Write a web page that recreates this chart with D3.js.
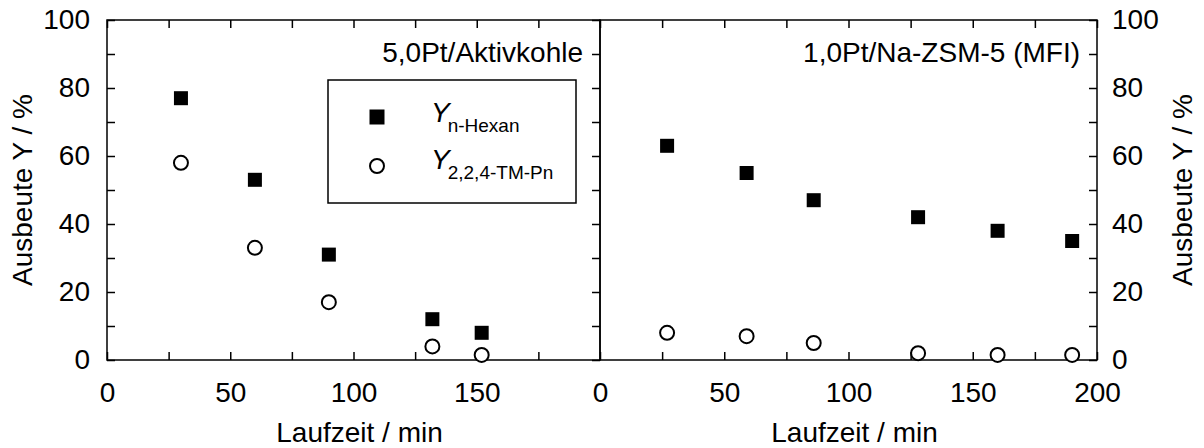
<!DOCTYPE html>
<html>
<head>
<meta charset="utf-8">
<script src="https://cdn.jsdelivr.net/npm/d3@7"></script>
<style>
  html, body { margin: 0; padding: 0; background: #fff; }
  svg { display: block; }
  text { font-family: "Liberation Sans", Arial, sans-serif; fill: #000; }
</style>
</head>
<body>
<svg id="chart" width="1204" height="448"></svg>
<script>
// ---- data ----
const panelTitles = ["5,0Pt/Aktivkohle", "1,0Pt/Na-ZSM-5 (MFI)"];
const leftTime   = [30, 60, 90, 132, 152];
const leftHexan  = [77, 53, 31, 12, 8];
const leftTMPn   = [58, 33, 17, 4, 1.5];
const rightTime  = [27, 59, 86, 128, 160, 190];
const rightHexan = [63, 55, 47, 42, 38, 35];
const rightTMPn  = [8, 7, 5, 2, 1.5, 1.5];
const legendMain = ["Y", "Y"];
const legendSub  = ["n-Hexan", "2,2,4-TM-Pn"];
const yMajor = [0, 20, 40, 60, 80, 100];
const yMinor = [10, 30, 50, 70, 90];
const xMajorLeft = [0, 50, 100, 150];
const xMajorRight = [0, 50, 100, 150, 200];
const xMinor = [25, 75, 125, 175];
const xTitle = "Laufzeit / min";
const yTitle = "Ausbeute Y / %";

// ---- layout ----
const svg = d3.select("#chart");
const yTop = 20, yBottom = 360;
const y = d3.scaleLinear().domain([0, 100]).range([yBottom, yTop]);
const xL = d3.scaleLinear().domain([0, 200]).range([107, 600]);
const xR = d3.scaleLinear().domain([0, 200]).range([600, 1097]);
const TICK = 8, FS = 28, SW = 1.5;

function style(g, labels) {
  g.select(".domain").remove();
  g.selectAll(".tick line").attr("stroke", "#000").attr("stroke-width", SW);
  g.selectAll(".tick text").attr("font-size", FS).attr("font-family", "Liberation Sans, Arial, sans-serif").attr("fill", "#000");
  if (!labels) g.selectAll(".tick text").remove();
}
function addAxis(axis, tx, ty, labels) {
  const g = svg.append("g").attr("transform", `translate(${tx},${ty})`).call(axis);
  style(g, labels);
  return g;
}

// frames
[xL, xR].forEach(x => {
  svg.append("rect")
    .attr("x", x.range()[0]).attr("y", yTop)
    .attr("width", x.range()[1] - x.range()[0]).attr("height", yBottom - yTop)
    .attr("fill", "none").attr("stroke", "#000").attr("stroke-width", SW);
});

// left panel axes
addAxis(d3.axisLeft(y).tickValues(yMajor).tickSize(-TICK).tickPadding(17), xL.range()[0], 0, true);
addAxis(d3.axisLeft(y).tickValues(yMinor).tickSize(-TICK), xL.range()[0], 0, false);
addAxis(d3.axisRight(y).tickValues(yMajor.concat(yMinor)).tickSize(-TICK), xL.range()[1], 0, false);
addAxis(d3.axisBottom(xL).tickValues(xMajorLeft).tickSize(-TICK).tickPadding(22), 0, yBottom, true);
addAxis(d3.axisBottom(xL).tickValues(xMinor).tickSize(-TICK), 0, yBottom, false);
addAxis(d3.axisTop(xL).tickValues(xMajorLeft.concat(xMinor)).tickSize(-TICK), 0, yTop, false);

// right panel axes
addAxis(d3.axisRight(y).tickValues(yMajor).tickSize(-TICK).tickPadding(15), xR.range()[1], 0, true);
addAxis(d3.axisRight(y).tickValues(yMinor).tickSize(-TICK), xR.range()[1], 0, false);
addAxis(d3.axisBottom(xR).tickValues(xMajorRight).tickSize(-TICK).tickPadding(22), 0, yBottom, true);
addAxis(d3.axisBottom(xR).tickValues(xMinor).tickSize(-TICK), 0, yBottom, false);
addAxis(d3.axisTop(xR).tickValues(xMajorRight.concat(xMinor)).tickSize(-TICK), 0, yTop, false);

// axis titles
[xL, xR].forEach(x => {
  svg.append("text")
    .attr("x", (x.range()[0] + x.range()[1]) / 2 + 6).attr("y", 442)
    .attr("text-anchor", "middle").attr("font-size", FS).text(xTitle);
});
[22, 1182].forEach(cx => {
  svg.append("text")
    .attr("transform", `translate(${cx},190) rotate(-90)`)
    .attr("text-anchor", "middle").attr("dominant-baseline", "central")
    .attr("font-size", FS).text(yTitle);
});

// panel titles
svg.append("text").attr("x", xL(0) + 476).attr("y", 62).attr("text-anchor", "end")
  .attr("font-size", FS).text(panelTitles[0]);
svg.append("text").attr("x", xR(0) + 480).attr("y", 62).attr("text-anchor", "end")
  .attr("font-size", FS).text(panelTitles[1]);

// markers
const SQ = 14, R = 7;
function squares(x, xs, ys) {
  svg.append("g").selectAll("rect").data(xs.map((t, i) => [t, ys[i]])).join("rect")
    .attr("x", d => x(d[0]) - SQ / 2).attr("y", d => y(d[1]) - SQ / 2)
    .attr("width", SQ).attr("height", SQ).attr("fill", "#000");
}
function circles(x, xs, ys) {
  svg.append("g").selectAll("circle").data(xs.map((t, i) => [t, ys[i]])).join("circle")
    .attr("cx", d => x(d[0])).attr("cy", d => y(d[1])).attr("r", R)
    .attr("fill", "#fff").attr("stroke", "#000").attr("stroke-width", 2);
}
squares(xL, leftTime, leftHexan);
circles(xL, leftTime, leftTMPn);
squares(xR, rightTime, rightHexan);
circles(xR, rightTime, rightTMPn);

// legend
const lg = svg.append("g");
lg.append("rect").attr("x", 328).attr("y", 80).attr("width", 248).attr("height", 123)
  .attr("fill", "#fff").attr("stroke", "#000").attr("stroke-width", SW);
lg.append("rect").attr("x", 377 - 7.5).attr("y", 117 - 7.5).attr("width", 15).attr("height", 15).attr("fill", "#000");
lg.append("circle").attr("cx", 377).attr("cy", 166).attr("r", R)
  .attr("fill", "#fff").attr("stroke", "#000").attr("stroke-width", 2);
const baselines = [122, 169];
legendMain.forEach((m, i) => {
  const t = lg.append("text").attr("x", 431).attr("y", baselines[i]).attr("font-size", FS);
  t.append("tspan").attr("font-style", "italic").text(m);
  t.append("tspan").attr("font-size", 19).attr("dy", 10).attr("dx", -2).text(legendSub[i]);
});
</script>
</body>
</html>
